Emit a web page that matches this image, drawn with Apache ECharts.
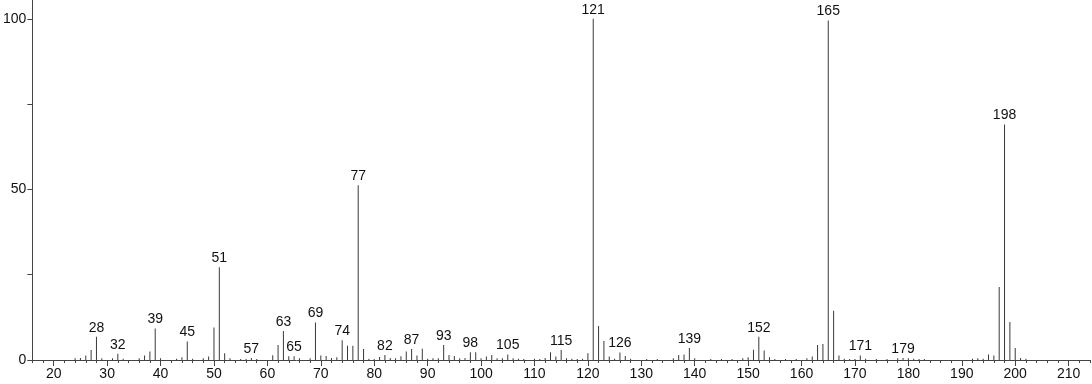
<!DOCTYPE html>
<html>
<head>
<meta charset="utf-8">
<script src="https://cdn.jsdelivr.net/npm/echarts@6/dist/echarts.min.js"></script>
<style>html,body{margin:0;padding:0;background:#fff}#c{width:1092px;height:384px}</style>
</head>
<body>
<div id="c"></div>
<script>
// m/z values and relative intensities (%)
var masses = [24,25,26,27,28,29,31,32,33,36,37,38,39,40,43,44,45,46,48,49,50,51,52,53,55,56,57,58,61,62,63,64,65,66,68,69,70,71,72,73,74,75,76,77,78,79,80,81,82,83,84,85,86,87,88,89,90,91,92,93,94,95,96,97,98,99,100,101,102,103,104,105,106,107,108,110,111,112,113,114,115,116,117,118,119,120,121,122,123,124,125,126,127,128,131,133,136,137,138,139,140,143,145,147,149,150,151,152,153,154,155,157,159,161,162,163,164,165,166,167,168,169,170,171,172,174,176,178,179,180,181,182,183,192,193,194,195,196,197,198,199,200,201,202];
var intensities = [0.5,0.6,1.3,2.9,6.8,0.5,0.5,1.8,0.4,0.5,1.3,2.5,9.2,0.5,0.4,0.8,5.4,0.4,0.5,1.0,9.5,27.2,2.0,0.5,0.3,0.3,0.6,0.3,1.4,4.4,8.5,1.1,1.1,0.5,0.5,11.0,1.3,1.2,0.6,0.8,5.8,4.2,4.2,51.2,3.2,0.4,0.3,0.9,1.5,0.6,0.5,1.1,2.5,3.2,1.3,3.3,0.4,0.5,0.5,4.4,1.5,1.2,0.5,0.6,2.3,2.3,0.5,1.0,1.5,0.5,0.5,1.6,0.5,0.4,0.3,0.4,0.3,0.6,2.3,1.0,2.9,0.5,0.4,0.3,0.4,2.0,100,10.0,5.6,1.0,0.4,2.2,1.2,0.4,0.3,0.3,0.5,1.5,1.6,3.5,0.5,0.3,0.3,0.3,0.5,0.8,3.0,6.8,2.8,0.8,0.3,0.3,0.3,0.5,1.0,4.4,4.7,99.5,14.4,1.3,0.4,0.3,0.3,1.3,0.4,0.3,0.3,0.5,0.6,0.5,0.4,0.3,0.3,0.4,0.5,0.4,1.6,1.3,21.4,69.0,11.1,3.5,0.6,0.4];
var labeledMasses = [28,32,39,45,51,57,63,65,69,74,77,82,87,93,98,105,115,121,126,139,152,165,171,179,198];
var xMajorTicks = [20,30,40,50,60,70,80,90,100,110,120,130,140,150,160,170,180,190,200,210];
var yTicks = [0,25,50,75,100];
var yLabels = [0,50,100];

var data = masses.map(function (m, i) {
  var item = { value: [m, intensities[i]] };
  if (labeledMasses.indexOf(m) >= 0) {
    item.label = { show: true, position: 'top', distance: 2, formatter: String(m) };
  }
  return item;
});

var chart = echarts.init(document.getElementById('c'), null, { renderer: 'canvas' });
var axisColor = '#444';
var font = '"Liberation Sans", Arial, sans-serif';
chart.setOption({
  animation: false,
  grid: { left: 31, right: 2, top: 0, bottom: 24, containLabel: false },
  xAxis: [{
    type: 'value', min: 16, max: 214, interval: 2,
    axisLine: { show: true, lineStyle: { color: axisColor, width: 1 } },
    axisTick: { show: true, length: 3, lineStyle: { color: axisColor } },
    axisLabel: { show: false },
    splitLine: { show: false }
  }, {
    type: 'value', min: 16, max: 214, position: 'bottom',
    axisLine: { show: false },
    axisTick: { show: true, length: 6, customValues: xMajorTicks, lineStyle: { color: axisColor } },
    axisLabel: { show: true, customValues: xMajorTicks, color: '#111', fontSize: 14, fontFamily: font, margin: 7 },
    splitLine: { show: false }
  }],
  yAxis: {
    type: 'value', min: 0, max: 105.5,
    axisLine: { show: true, lineStyle: { color: axisColor, width: 1 } },
    axisTick: { show: true, length: 5, customValues: yTicks, lineStyle: { color: axisColor } },
    axisLabel: { show: true, customValues: yLabels, color: '#111', fontSize: 14, fontFamily: font, margin: 6 },
    splitLine: { show: false }
  },
  series: [{
    type: 'bar',
    xAxisIndex: 0,
    barWidth: 1,
    itemStyle: { color: '#3a3a3a' },
    label: { color: '#111', fontSize: 14, fontFamily: font },
    data: data
  }]
});
</script>
</body>
</html>
